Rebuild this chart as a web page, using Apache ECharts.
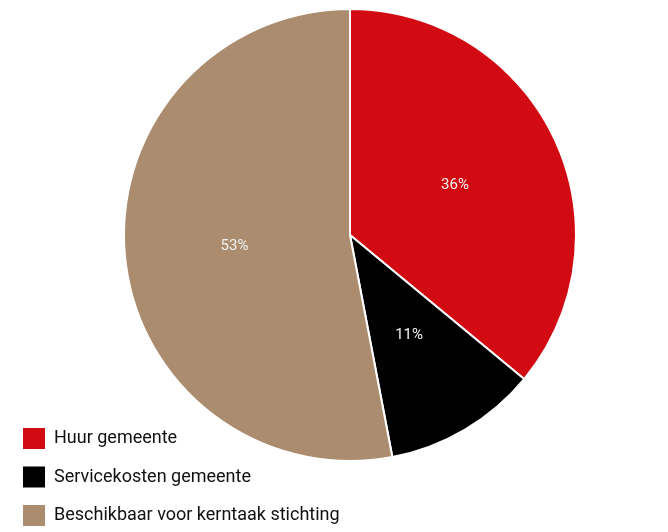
<!DOCTYPE html>
<html>
<head>
<meta charset="utf-8">
<script src="https://cdn.jsdelivr.net/npm/echarts@6/dist/echarts.min.js"></script>
<style>
  html, body { margin: 0; padding: 0; background: #fff; }
  #chart { width: 668px; height: 532px; }
</style>
</head>
<body>
<div id="chart"></div>
<script>
// categorieën en aandelen (%)
const categories = ['Huur gemeente', 'Servicekosten gemeente', 'Beschikbaar voor kerntaak stichting']
const values = [36, 11, 53]
const colors = ['#d20a11', '#000000', '#ab8c6e']

const chart = echarts.init(document.getElementById('chart'))
chart.setOption({
  animation: false,
  textStyle: { fontFamily: 'Roboto, sans-serif' },
  legend: {
    orient: 'vertical',
    left: 23,
    top: 428,
    height: 110,
    padding: 0,
    itemWidth: 22,
    itemHeight: 21,
    itemGap: 17.5,
    icon: 'rect',
    itemStyle: { borderWidth: 0 },
    data: categories,
    textStyle: { fontSize: 18, color: '#111', padding: [0, 0, 0, 4] }
  },
  series: [
    {
      type: 'pie',
      center: [350, 235],
      radius: 226,
      startAngle: 90,
      clockwise: true,
      data: categories.map((name, i) => ({
        name,
        value: values[i],
        itemStyle: { color: colors[i] }
      })),
      itemStyle: { borderColor: '#fff', borderWidth: 2 },
      label: {
        show: true,
        position: 'inside',
        formatter: '{c}%',
        color: '#f2f2f2',
        fontSize: 15
      },
      labelLine: { show: false },
      emphasis: { disabled: true }
    }
  ]
})
</script>
</body>
</html>
